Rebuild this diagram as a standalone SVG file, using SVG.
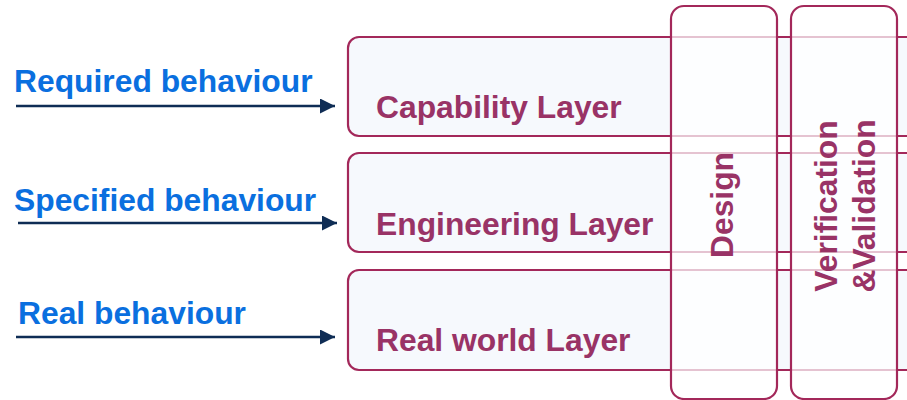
<svg xmlns="http://www.w3.org/2000/svg" width="907" height="400" viewBox="0 0 907 400">
<defs>
<marker id="ah" markerWidth="16" markerHeight="16" refX="15" refY="7.5" orient="auto" markerUnits="userSpaceOnUse">
<path d="M0,0 L15,7.5 L0,15 Z" fill="#0f2d55"/>
</marker>
<style>
.layer{fill:#f6f9fd;stroke:#a3285a;stroke-width:2.2}
.col{fill:#ffffff;fill-opacity:0.72;stroke:#a3285a;stroke-width:2.2}
.lt{font-family:"Liberation Sans",Arial,sans-serif;font-weight:bold;font-size:31.8px;fill:#993366}
.bt{font-family:"Liberation Sans",Arial,sans-serif;font-weight:bold;font-size:31.8px;fill:#0a6fdf}
.arr{stroke:#0f2d55;stroke-width:2.4;fill:none}
</style>
</defs>
<rect width="907" height="400" fill="#ffffff"/>
<g id="capability"><rect class="layer" x="348" y="37" width="600" height="99" rx="11"/></g>
<g id="engineering"><rect class="layer" x="348" y="153" width="600" height="99" rx="11"/></g>
<g id="realworld"><rect class="layer" x="348" y="270" width="600" height="100" rx="11"/></g>
<g id="design"><rect class="col" x="671" y="6" width="106" height="393" rx="13"/>
<text class="lt" text-anchor="middle" transform="translate(733,205) rotate(-90)">Design</text></g>
<g id="vv"><rect class="col" x="791" y="6" width="106" height="393" rx="13"/>
<text class="lt" text-anchor="middle" transform="translate(837,206) rotate(-90)">Verification</text>
<text class="lt" text-anchor="middle" transform="translate(875,206) rotate(-90)">&amp;Validation</text></g>
<g id="labels">
<text class="lt" x="376" y="118">Capability Layer</text>
<text class="lt" x="376" y="235">Engineering Layer</text>
<text class="lt" x="376" y="351">Real world Layer</text>
<text class="bt" x="14" y="92">Required behaviour</text>
<text class="bt" x="14" y="211">Specified behaviour</text>
<text class="bt" x="18" y="324">Real behaviour</text>
</g>
<g id="connectors">
<line class="arr" x1="16" y1="106" x2="335" y2="106" marker-end="url(#ah)"/>
<line class="arr" x1="18" y1="223" x2="337" y2="223" marker-end="url(#ah)"/>
<line class="arr" x1="16" y1="337" x2="335" y2="337" marker-end="url(#ah)"/>
</g>
</svg>
